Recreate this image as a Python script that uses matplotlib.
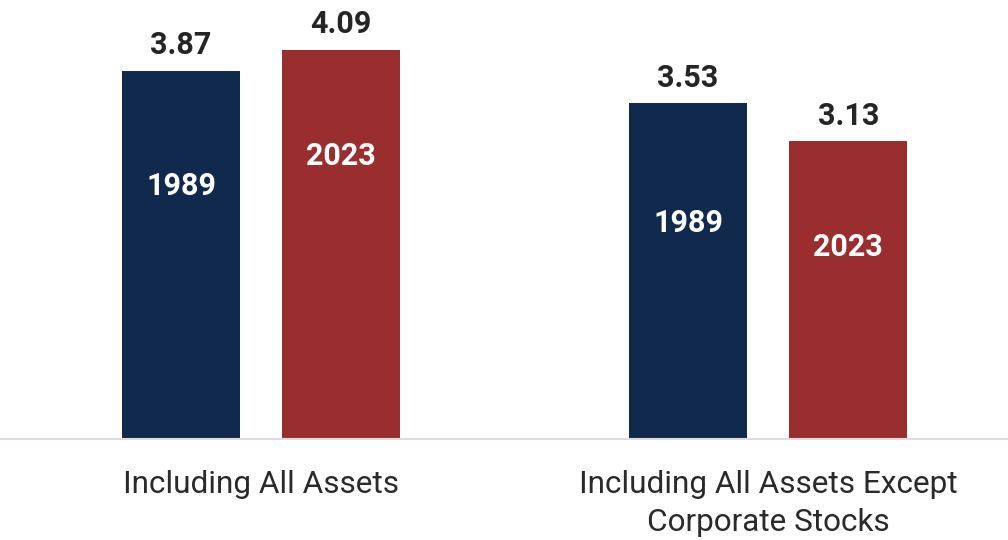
import matplotlib.pyplot as plt
import numpy as np

plt.rcParams['font.family'] = ['Roboto', 'DejaVu Sans']

# data
categories = ["Including All Assets", "Including All Assets Except\nCorporate Stocks"]
years = ["1989", "2023"]
values_1989 = [3.87, 3.53]
values_2023 = [4.09, 3.13]
# height (in data units) where the year label sits inside each bar
year_label_y_1989 = [2.66, 2.27]
year_label_y_2023 = [2.98, 2.02]

navy = "#10294c"
red = "#9a2d2d"

fig = plt.figure(figsize=(10.08, 5.4), dpi=100)
ax = fig.add_axes([0.0, 1 - 439 / 540, 1.0, 439 / 540])

x = np.arange(len(categories))
w = 0.233
off = 0.158

b1 = ax.bar(x - off, values_1989, w, color=navy)
b2 = ax.bar(x + off, values_2023, w, color=red)

for bars, vals, ys, yr in [(b1, values_1989, year_label_y_1989, years[0]),
                           (b2, values_2023, year_label_y_2023, years[1])]:
    for b, v, yy in zip(bars, vals, ys):
        cx = b.get_x() + b.get_width() / 2
        ax.annotate(f"{v:.2f}", (cx, v), xytext=(0, 12), textcoords="offset points",
                    ha="center", va="baseline", fontsize=22, fontweight="bold",
                    color="#252525")
        ax.text(cx, yy, yr, ha="center", va="center", fontsize=22,
                fontweight="bold", color="white")

ax.set_xlim(-0.515, 1.473)
ax.set_ylim(0, 4.616)

ax.set_xticks(x)
ax.set_xticklabels(categories, fontsize=22.7, color="#2a2a2a", linespacing=1.4)
ax.tick_params(axis="x", length=0, pad=22)
ax.set_yticks([])

for s in ["top", "right", "left"]:
    ax.spines[s].set_visible(False)
ax.spines["bottom"].set_color("#dddddd")
ax.spines["bottom"].set_linewidth(1.5)

fig.savefig("out.png", dpi=100)
